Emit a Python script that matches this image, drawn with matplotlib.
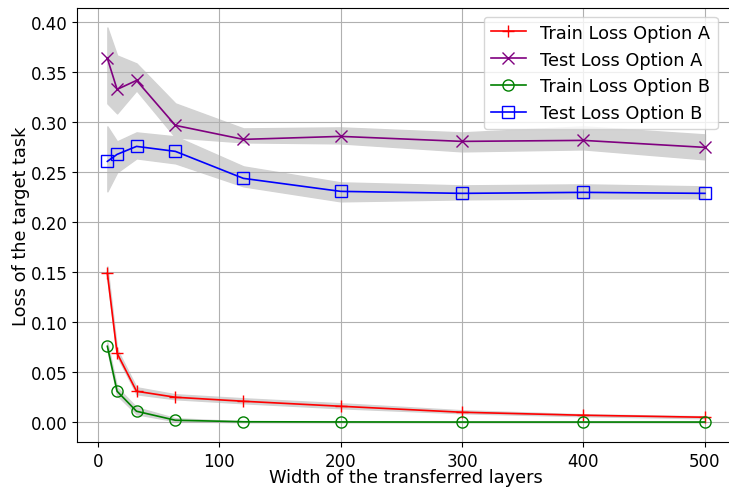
import numpy as np
import matplotlib
matplotlib.use("Agg")
from matplotlib import pyplot as plt

widths = [8, 16, 32, 64, 120, 200, 300, 400, 500]

train_a = [0.149, 0.069, 0.031, 0.025, 0.021, 0.016, 0.010, 0.007, 0.005]
train_a_lo = [0.143, 0.066, 0.028, 0.023, 0.019, 0.014, 0.009, 0.006, 0.004]
train_a_hi = [0.156, 0.073, 0.035, 0.028, 0.024, 0.019, 0.012, 0.008, 0.006]

test_a = [0.364, 0.333, 0.342, 0.297, 0.283, 0.286, 0.281, 0.282, 0.275]
test_a_lo = [0.319, 0.309, 0.332, 0.285, 0.280, 0.279, 0.271, 0.273, 0.263]
test_a_hi = [0.395, 0.367, 0.359, 0.319, 0.294, 0.295, 0.290, 0.296, 0.288]

train_b = [0.076, 0.031, 0.011, 0.002, 0.0005, 0.0003, 0.0002, 0.0002, 0.0002]
train_b_lo = [0.072, 0.027, 0.008, 0.001, 0.0, 0.0, 0.0, 0.0, 0.0]
train_b_hi = [0.080, 0.035, 0.015, 0.004, 0.001, 0.0006, 0.0004, 0.0004, 0.0004]

test_b = [0.261, 0.268, 0.276, 0.271, 0.244, 0.231, 0.229, 0.230, 0.229]
test_b_lo = [0.231, 0.250, 0.264, 0.259, 0.236, 0.221, 0.223, 0.224, 0.224]
test_b_hi = [0.296, 0.281, 0.290, 0.286, 0.256, 0.240, 0.237, 0.238, 0.236]

plt.rcParams["font.size"] = 12.8

fig = plt.figure(figsize=(7.29, 4.89), dpi=100)
ax = fig.add_axes([0.1063, 0.0941, 0.9017, 0.8881])

ms = 8
lw = 1.2
ax.plot(widths, train_a, color="red", marker="+", markersize=ms, linewidth=lw, label="Train Loss Option A")
ax.fill_between(widths, train_a_lo, train_a_hi, color="lightgray")
ax.plot(widths, test_a, color="purple", marker="x", markersize=ms, linewidth=lw, label="Test Loss Option A")
ax.fill_between(widths, test_a_lo, test_a_hi, color="lightgray")
ax.plot(widths, train_b, color="green", marker="o", markersize=ms, linewidth=lw, fillstyle="none", label="Train Loss Option B")
ax.fill_between(widths, train_b_lo, train_b_hi, color="lightgray")
ax.plot(widths, test_b, color="blue", marker="s", markersize=ms, linewidth=lw, fillstyle="none", label="Test Loss Option B")
ax.fill_between(widths, test_b_lo, test_b_hi, color="lightgray")

ax.tick_params(labelsize=12)
ax.set_xlabel("Width of the transferred layers", labelpad=-1)
ax.set_ylabel("Loss of the target task", labelpad=1)
ax.legend(loc="upper right", bbox_to_anchor=(0.9875, 1.0))
ax.grid()

plt.savefig("out.png")
